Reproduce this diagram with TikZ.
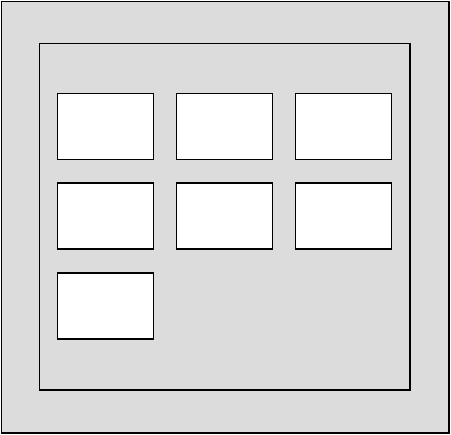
\documentclass[tikz,border=0pt]{standalone}
\begin{document}
\begin{tikzpicture}[x=1pt,y=-1pt,
  frame/.style={draw=black,line width=1.6pt,fill=panelgrey,inner sep=0pt,outer sep=0pt},
  card/.style={draw=black,line width=1.9pt,fill=white,minimum width=96pt,minimum height=66pt,inner sep=0pt,outer sep=0pt}]
\definecolor{panelgrey}{HTML}{DCDCDC}
\useasboundingbox (0,0) rectangle (451,435);
\fill[white] (0,0) rectangle (451,435);
\draw[frame] (1.5,1.5) rectangle (449,433);
\draw[frame] (39.5,43.5) rectangle (410,390);
\node[card] (c1) at (105.5,126.5) {};
\node[card] (c2) at (224.5,126.5) {};
\node[card] (c3) at (343.5,126.5) {};
\node[card] (c4) at (105.5,216) {};
\node[card] (c5) at (224.5,216) {};
\node[card] (c6) at (343.5,216) {};
\node[card] (c7) at (105.5,306) {};
\end{tikzpicture}
\end{document}
